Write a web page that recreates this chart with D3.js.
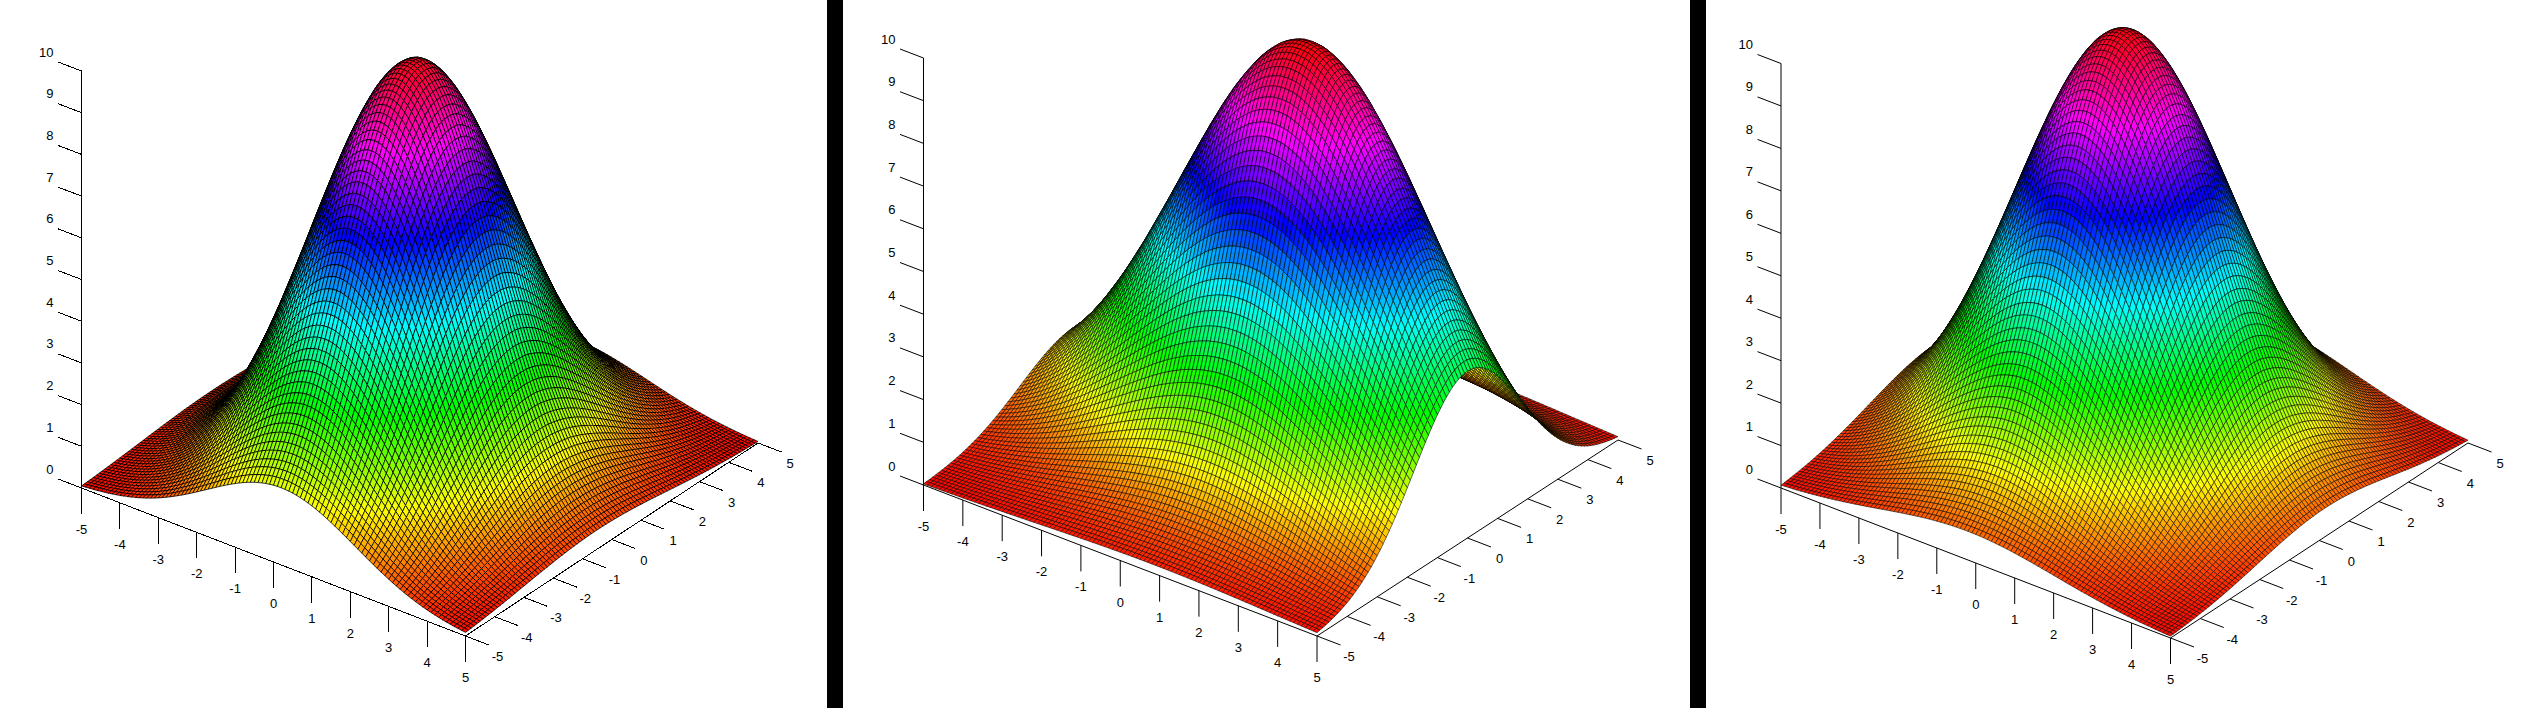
<!DOCTYPE html>
<html>
<head>
<meta charset="utf-8">
<script src="https://cdn.jsdelivr.net/npm/d3@7"></script>
<style>
html, body { margin: 0; padding: 0; background: #fff; }
svg { display: block; }
text { font-family: "Liberation Sans", Arial, sans-serif; font-size: 13px; fill: #000; }
</style>
</head>
<body>
<div id="chart"></div>
<script>
var xTicks = [-5, -4, -3, -2, -1, 0, 1, 2, 3, 4, 5];
var yTicks = [-5, -4, -3, -2, -1, 0, 1, 2, 3, 4, 5];
var zTicks = [0, 1, 2, 3, 4, 5, 6, 7, 8, 9, 10];

// surface heights: estimated profiles along x and y (x,y = -5..5, step 0.1),
// a cell height is peak * profileX * profileY. Not read cell by cell.
var peaks = [10, 10.15, 10.07];

var profileX1 = [.027,.031,.036,.041,.046,.053,.060,.067,.076,.085,
.095,.107,.119,.132,.146,.161,.178,.195,.214,.234,
.255,.278,.301,.326,.352,.379,.406,.435,.464,.494,
.524,.556,.587,.618,.649,.680,.711,.741,.770,.798,
.825,.851,.875,.898,.918,.937,.953,.967,.979,.988,
.995,.999,1,.999,.995,.988,.979,.967,.953,.937,
.918,.898,.875,.851,.825,.798,.770,.741,.711,.680,
.649,.618,.587,.556,.524,.494,.464,.435,.406,.379,
.352,.326,.301,.278,.255,.234,.214,.195,.178,.161,
.146,.132,.119,.107,.095,.085,.076,.067,.060,.053,.046];

var profileY1 = [.185,.200,.215,.230,.247,.264,.282,.300,.320,.340,
.360,.382,.404,.426,.449,.472,.496,.521,.545,.570,
.595,.619,.644,.668,.693,.717,.740,.763,.786,.808,
.829,.849,.869,.887,.904,.920,.935,.948,.960,.970,
.979,.987,.993,.997,.999,1,.999,.997,.993,.987,
.979,.970,.960,.948,.935,.920,.904,.887,.869,.849,
.829,.808,.786,.763,.740,.717,.693,.668,.644,.619,
.595,.570,.545,.521,.496,.472,.449,.426,.404,.382,
.360,.340,.320,.300,.282,.264,.247,.230,.215,.200,
.185,.172,.159,.147,.135,.125,.115,.105,.096,.088,.080];

var profileX2 = [.138,.148,.158,.168,.179,.191,.203,.215,.228,.242,
.256,.270,.285,.301,.317,.333,.350,.367,.385,.403,
.422,.440,.459,.479,.499,.519,.539,.559,.579,.600,
.620,.641,.661,.681,.701,.721,.740,.760,.778,.797,
.815,.832,.849,.865,.880,.895,.908,.922,.934,.945,
.955,.964,.973,.980,.986,.991,.995,.998,.999,1,
.999,.998,.995,.991,.986,.980,.973,.964,.955,.945,
.934,.922,.908,.895,.880,.865,.849,.832,.815,.797,
.778,.760,.740,.721,.701,.681,.661,.641,.620,.600,
.579,.559,.539,.519,.499,.479,.459,.440,.422,.403,.385];

var profileY2 = [.020,.024,.027,.032,.037,.043,.049,.056,.064,.073,
.082,.093,.105,.118,.132,.148,.165,.183,.202,.223,
.246,.269,.294,.321,.348,.377,.407,.438,.470,.502,
.536,.569,.603,.637,.671,.704,.737,.768,.799,.828,
.856,.881,.905,.926,.945,.962,.975,.986,.994,.998,
1,.998,.994,.986,.975,.962,.945,.926,.905,.881,.856,
.828,.799,.768,.737,.704,.671,.637,.603,.569,.536,
.502,.470,.438,.407,.377,.348,.321,.294,.269,.246,
.223,.202,.183,.165,.148,.132,.118,.105,.093,.082,
.073,.064,.056,.049,.043,.037,.032,.027,.024,.020];

var profileX3 = [.100,.110,.120,.132,.144,.157,.171,.186,.202,.218,
.236,.254,.274,.294,.315,.337,.359,.383,.407,.431,
.457,.482,.509,.535,.562,.589,.616,.643,.670,.697,
.723,.749,.774,.798,.822,.844,.866,.886,.905,.922,
.938,.952,.965,.975,.984,.991,.996,.999,1,.999,
.996,.991,.984,.975,.965,.952,.938,.922,.905,.886,
.866,.844,.822,.798,.774,.749,.723,.697,.670,.643,
.616,.589,.562,.535,.509,.482,.457,.431,.407,.383,
.359,.337,.315,.294,.274,.254,.236,.218,.202,.186,
.171,.157,.144,.132,.120,.110,.100,.091,.082,.074,.067];

var profileY3 = [.067,.074,.082,.091,.100,.110,.120,.132,.144,.157,
.171,.186,.202,.218,.236,.254,.274,.294,.315,.337,
.359,.383,.407,.431,.457,.482,.509,.535,.562,.589,
.616,.643,.670,.697,.723,.749,.774,.798,.822,.844,
.866,.886,.905,.922,.938,.952,.965,.975,.984,.991,
.996,.999,1,.999,.996,.991,.984,.975,.965,.952,
.938,.922,.905,.886,.866,.844,.822,.798,.774,.749,
.723,.697,.670,.643,.616,.589,.562,.535,.509,.482,
.457,.431,.407,.383,.359,.337,.315,.294,.274,.254,
.236,.218,.202,.186,.171,.157,.144,.132,.120,.110,.100];

var profilesX = [profileX1, profileX2, profileX3];
var profilesY = [profileY1, profileY2, profileY3];

var width = 2535;
var height = 708;

var svg = d3.select("#chart")
	.append("svg")
	.attr("width", width)
	.attr("height", height);

svg.append("rect")
	.attr("width", width)
	.attr("height", height)
	.attr("fill", "#fff");

// black bars between the panels
svg.selectAll(".bar")
	.data([827, 1690])
	.enter()
	.append("rect")
	.attr("class", "bar")
	.attr("x", function(d) { return d; })
	.attr("y", 0)
	.attr("width", 16)
	.attr("height", height)
	.attr("fill", "#000");

// where the base corners of each box land on the page
var boxes = [
	{left: [81.5, 488], front: [465.5, 636], right: [758, 443], zHeight: 417, render: "crispEdges", lw: 0.75},
	{left: [923.5, 485], front: [1317, 636], right: [1618, 440], zHeight: 427, render: "auto", lw: 0.55},
	{left: [1781, 488], front: [2170.5, 638], right: [2468, 443], zHeight: 424.5, render: "auto", lw: 0.55}
];

var hue = d3.scaleLinear().domain([0, 10.2]).range([0, 360]);
var gridValue = d3.scaleLinear().domain([0, 100]).range([-5, 5]);
var line = d3.line();

function drawPanel(box, profileX, profileY, peak) {

	var xPx = d3.scaleLinear().domain([-5, 5]).range([box.left[0], box.front[0]]);
	var xPy = d3.scaleLinear().domain([-5, 5]).range([box.left[1], box.front[1]]);
	var yPx = d3.scaleLinear().domain([-5, 5]).range([0, box.right[0] - box.front[0]]);
	var yPy = d3.scaleLinear().domain([-5, 5]).range([0, box.right[1] - box.front[1]]);
	var zPy = d3.scaleLinear().domain([0, 10]).range([0, -box.zHeight]);

	function project(x, y, z) {
		return [xPx(x) + yPx(y), xPy(x) + yPy(y) + zPy(z)];
	}

	var g = svg.append("g");

	// AXES
	var axes = g.append("g")
		.attr("stroke", "#000")
		.attr("stroke-width", 1)
		.attr("shape-rendering", box.render);

	function addLine(a, b) {
		axes.append("path").attr("d", line([a, b])).attr("fill", "none");
	}

	addLine(project(-5, -5, 0), project(5, -5, 0));
	addLine(project(5, -5, 0), project(5, 5, 0));
	addLine(project(-5, -5, 10), project(-5, -5, 0));

	xTicks.forEach(function(t) {
		var p = project(t, -5, 0);
		addLine(p, [p[0], p[1] + 26]);
	});
	yTicks.forEach(function(t) {
		var p = project(5, t, 0);
		addLine(p, [p[0] + 23.5, p[1] + 9]);
	});
	zTicks.forEach(function(t) {
		var p = project(-5, -5, t);
		addLine(p, [p[0] - 23.5, p[1] - 9]);
	});

	var labels = g.append("g");

	labels.selectAll(".xlab")
		.data(xTicks)
		.enter()
		.append("text")
		.attr("text-anchor", "middle")
		.attr("x", function(d) { return project(d, -5, 0)[0]; })
		.attr("y", function(d) { return project(d, -5, 0)[1] + 46; })
		.text(function(d) { return d; });

	labels.selectAll(".ylab")
		.data(yTicks)
		.enter()
		.append("text")
		.attr("text-anchor", "middle")
		.attr("x", function(d) { return project(5, d, 0)[0] + 32; })
		.attr("y", function(d) { return project(5, d, 0)[1] + 25; })
		.text(function(d) { return d; });

	labels.selectAll(".zlab")
		.data(zTicks)
		.enter()
		.append("text")
		.attr("text-anchor", "end")
		.attr("x", function(d) { return project(-5, -5, d)[0] - 28; })
		.attr("y", function(d) { return project(-5, -5, d)[1] - 14.5; })
		.text(function(d) { return d; });

	// SURFACE, painted from the back corner to the front corner
	function zAt(i, j) {
		return peak * profileX[i] * profileY[j];
	}

	var cells = [];
	for (var i = 0; i < 100; i++) {
		for (var j = 99; j >= 0; j--) {
			cells.push({i: i, j: j});
		}
	}

	g.append("g")
		.attr("stroke", "#000")
		.attr("stroke-width", box.lw)
		.attr("stroke-linejoin", "round")
		.attr("shape-rendering", box.render)
		.selectAll("path")
		.data(cells)
		.enter()
		.append("path")
		.attr("d", function(c) {
			var corners = [[c.i, c.j], [c.i + 1, c.j], [c.i + 1, c.j + 1], [c.i, c.j + 1]];
			return line(corners.map(function(k) {
				return project(gridValue(k[0]), gridValue(k[1]), zAt(k[0], k[1]));
			})) + "Z";
		})
		.attr("fill", function(c) {
			var z = (zAt(c.i, c.j) + zAt(c.i + 1, c.j) + zAt(c.i + 1, c.j + 1) + zAt(c.i, c.j + 1)) / 4;
			return d3.hsl(hue(z), 1, 0.5).formatHex();
		});
}

boxes.forEach(function(box, n) {
	drawPanel(box, profilesX[n], profilesY[n], peaks[n]);
});
</script>
</body>
</html>
